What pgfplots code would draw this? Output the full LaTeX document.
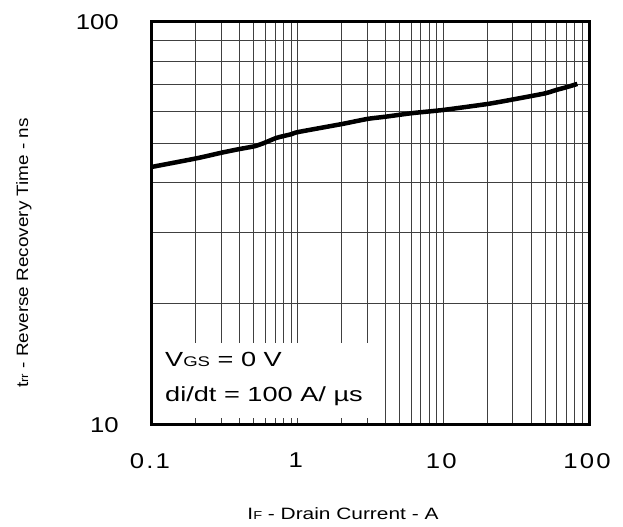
\documentclass[border=0pt]{standalone}
\usepackage{fontspec}
\setmainfont{Liberation Sans}
\newfontfamily\ticksfont[FakeStretch=1.2]{Liberation Sans}
\newfontfamily\xticksfont[FakeStretch=1.2, LetterSpace=10]{Liberation Sans}
\newfontfamily\boxfont[FakeStretch=1.33]{Liberation Sans}
\newfontfamily\xlabfont[FakeStretch=1.27]{Liberation Sans}
\newfontfamily\ylabfont[FakeStretch=1.15]{Liberation Sans}
\usepackage{pgfplots}
\pgfplotsset{compat=1.18}

\begin{document}
\begin{tikzpicture}
\useasboundingbox (0,0) rectangle (623bp,527bp);
\begin{axis}[
  at={(152bp,102bp)}, anchor=south west,
  scale only axis,
  width=437bp, height=403bp,
  xmode=log, ymode=log,
  xmin=0.1, xmax=100, ymin=10, ymax=100,
  xtick={0.1,1,10,100}, xticklabels={0.1,1,10,100},
  ytick={10,100}, yticklabels={10,100},
  major tick length=0pt, minor tick length=0pt,
  grid=both,
  major grid style={black!75, line width=0.8bp},
  minor grid style={black!75, line width=0.8bp},
  axis line style={line width=3bp},
  xticklabel style={font=\xticksfont\fontsize{21.5}{21.5}\selectfont, anchor=north, inner sep=0pt, yshift=-28bp, xshift=-2bp},
  yticklabel style={font=\ticksfont\fontsize{21.5}{21.5}\selectfont, anchor=east, inner sep=0pt, xshift=-33bp},
  xlabel={I{\fontsize{11.5}{11.5}\selectfont F} - Drain Current - A},
  ylabel={t{\fontsize{11.5}{11.5}\selectfont rr} - Reverse Recovery Time - ns},
  xlabel style={font=\xlabfont\fontsize{16.5}{16.5}\selectfont, at={(axis description cs:0.437,-0.221)}, anchor=center},
  ylabel style={font=\ylabfont\fontsize{16.5}{16.5}\selectfont, at={(axis description cs:-0.293,0.427)}, anchor=center, rotate=0},
]
\fill[white] (axis cs:0.1025,10.4) rectangle (axis cs:3.5,16);
\addplot[black, line width=4.5bp, smooth, tension=0.3] coordinates {
  (0.1,43.7) (0.203,45.9) (0.301,47.4) (0.4,48.4) (0.51,49.2) (0.597,50.2)
  (0.718,51.6) (0.91,52.7) (1.0,53.3) (2.0,55.8) (3.03,57.5) (4.0,58.2)
  (6.08,59.4) (10,60.5) (20.1,62.6) (30.5,64.3) (49.8,66.5) (59.5,67.8)
  (70,68.9) (83.2,70.2)
};
\node[anchor=base west, inner sep=0pt, font=\boxfont\fontsize{20.5}{20.5}\selectfont] at (axis cs:0.1228,13.93) {V{\fontsize{14}{14}\selectfont GS} = 0 V};
\node[anchor=base west, inner sep=0pt, font=\boxfont\fontsize{20.5}{20.5}\selectfont] at (axis cs:0.1228,11.41) {di/dt = 100 A/ µs};
\end{axis}
\end{tikzpicture}
\end{document}
